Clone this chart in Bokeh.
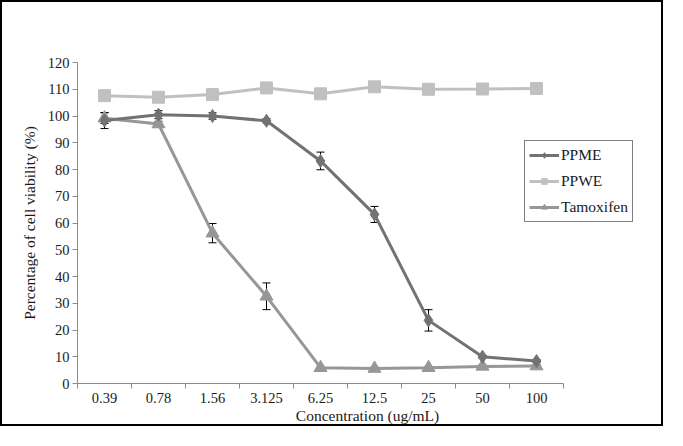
from bokeh.plotting import figure
from bokeh.models import (ColumnDataSource, Whisker, TeeHead, Range1d, FixedTicker,
                          Legend, LegendItem)
from bokeh.embed import file_html
from bokeh.resources import INLINE

concentrations = ["0.39", "0.78", "1.56", "3.125", "6.25", "12.5", "25", "50", "100"]
ppme = [98.3, 100.5, 100.0, 98.2, 83.2, 63.2, 23.6, 10.0, 8.4]
ppme_err = [3.0, 1.5, 1.2, 0.8, 3.3, 3.0, 4.0, 0.5, 0.5]
ppwe = [107.6, 107.0, 108.0, 110.5, 108.3, 110.9, 110.0, 110.1, 110.3]
tamox = [99.2, 97.0, 56.2, 32.6, 5.9, 5.6, 5.9, 6.4, 6.5]
tamox_err = [2.0, 1.0, 3.6, 5.0, 0.5, 0.5, 0.5, 0.5, 0.5]
y_ticks = list(range(0, 130, 10))

FONT = "Liberation Serif"
x = list(range(1, len(concentrations) + 1))

W, H = 663, 426
left, top, bottom, right = 75, 60, 45, 8
frame_w = W - left - right
cat_px = 54.0

p = figure(width=W, height=H, output_backend="svg", toolbar_location=None,
           x_range=Range1d(0.5, 0.5 + frame_w / cat_px), y_range=Range1d(0, 120),
           min_border_left=left, min_border_top=top, min_border_bottom=bottom,
           min_border_right=right)
p.styles = {"border": "2px solid black"}
p.outline_line_color = None
p.xgrid.visible = False
p.ygrid.visible = False
p.background_fill_color = "white"
p.border_fill_color = "white"

# x axis
xa = p.xaxis[0]
xa.bounds = (0.5, len(concentrations) + 0.5)
xa.ticker = FixedTicker(ticks=x, minor_ticks=[i + 0.5 for i in range(0, len(concentrations) + 1)])
xa.major_label_overrides = {i: c for i, c in zip(x, concentrations)}
xa.major_tick_line_color = None
xa.minor_tick_out = 5
xa.minor_tick_in = 0
xa.minor_tick_line_color = "#8c8c8c"
xa.axis_line_color = "#8c8c8c"
xa.major_label_text_font = FONT
xa.major_label_text_font_size = "14.5px"
xa.major_label_text_color = "#1a1a1a"
xa.major_label_standoff = 3
xa.axis_label = "Concentration (ug/mL)"
xa.axis_label_text_font = FONT
xa.axis_label_text_font_size = "15.5px"
xa.axis_label_text_font_style = "normal"
xa.axis_label_text_color = "#1a1a1a"
xa.axis_label_standoff = 1

# y axis
ya = p.yaxis[0]
ya.ticker = FixedTicker(ticks=y_ticks, minor_ticks=[])
ya.major_tick_out = 5
ya.major_tick_in = 0
ya.major_tick_line_color = "#8c8c8c"
ya.axis_line_color = "#8c8c8c"
ya.major_label_text_font = FONT
ya.major_label_text_font_size = "14.5px"
ya.major_label_text_color = "#1a1a1a"
ya.major_label_standoff = 3
ya.axis_label = "Percentage of cell viability (%)"
ya.axis_label_text_font = FONT
ya.axis_label_text_font_size = "15.5px"
ya.axis_label_text_font_style = "normal"
ya.axis_label_text_color = "#1a1a1a"
ya.axis_label_standoff = 7

src_ppme = ColumnDataSource(dict(x=x, y=ppme,
                                 upper=[v + e for v, e in zip(ppme, ppme_err)],
                                 lower=[v - e for v, e in zip(ppme, ppme_err)]))
src_ppwe = ColumnDataSource(dict(x=x, y=ppwe))
src_tam = ColumnDataSource(dict(x=x, y=tamox,
                                upper=[v + e for v, e in zip(tamox, tamox_err)],
                                lower=[v - e for v, e in zip(tamox, tamox_err)]))

c_ppme, c_ppwe, c_tam = "#727272", "#c0c0c0", "#979797"

l2 = p.line("x", "y", source=src_ppwe, line_color=c_ppwe, line_width=3)
m2 = p.scatter("x", "y", source=src_ppwe, marker="square", size=12,
               fill_color=c_ppwe, line_color=c_ppwe)
l3 = p.line("x", "y", source=src_tam, line_color=c_tam, line_width=3)
m3 = p.scatter("x", "y", source=src_tam, marker="triangle", size=13,
               fill_color=c_tam, line_color=c_tam)
l1 = p.line("x", "y", source=src_ppme, line_color=c_ppme, line_width=3)
m1 = p.scatter("x", "y", source=src_ppme, marker="diamond", size=13,
               fill_color=c_ppme, line_color=c_ppme)

for src in (src_ppme, src_tam):
    w = Whisker(base="x", upper="upper", lower="lower", source=src,
                line_color="black", line_width=1,
                upper_head=TeeHead(size=8, line_color="black", line_width=1),
                lower_head=TeeHead(size=8, line_color="black", line_width=1))
    p.add_layout(w)

legend = Legend(items=[
    LegendItem(label="PPME", renderers=[l1, m1]),
    LegendItem(label="PPWE", renderers=[l2, m2]),
    LegendItem(label="Tamoxifen", renderers=[l3, m3]),
], location=(447, 161))
legend.border_line_color = "black"
legend.border_line_width = 1
legend.background_fill_color = "white"
legend.background_fill_alpha = 1
legend.label_text_font = FONT
legend.label_text_font_size = "15.5px"
legend.label_text_color = "#1a1a1a"
legend.glyph_width = 30
legend.glyph_height = 14
legend.label_height = 20
legend.spacing = 6
legend.padding = 4
legend.margin = 0
legend.label_standoff = 2
p.add_layout(legend, "center")

open("out.html", "w").write(file_html(p, INLINE))
